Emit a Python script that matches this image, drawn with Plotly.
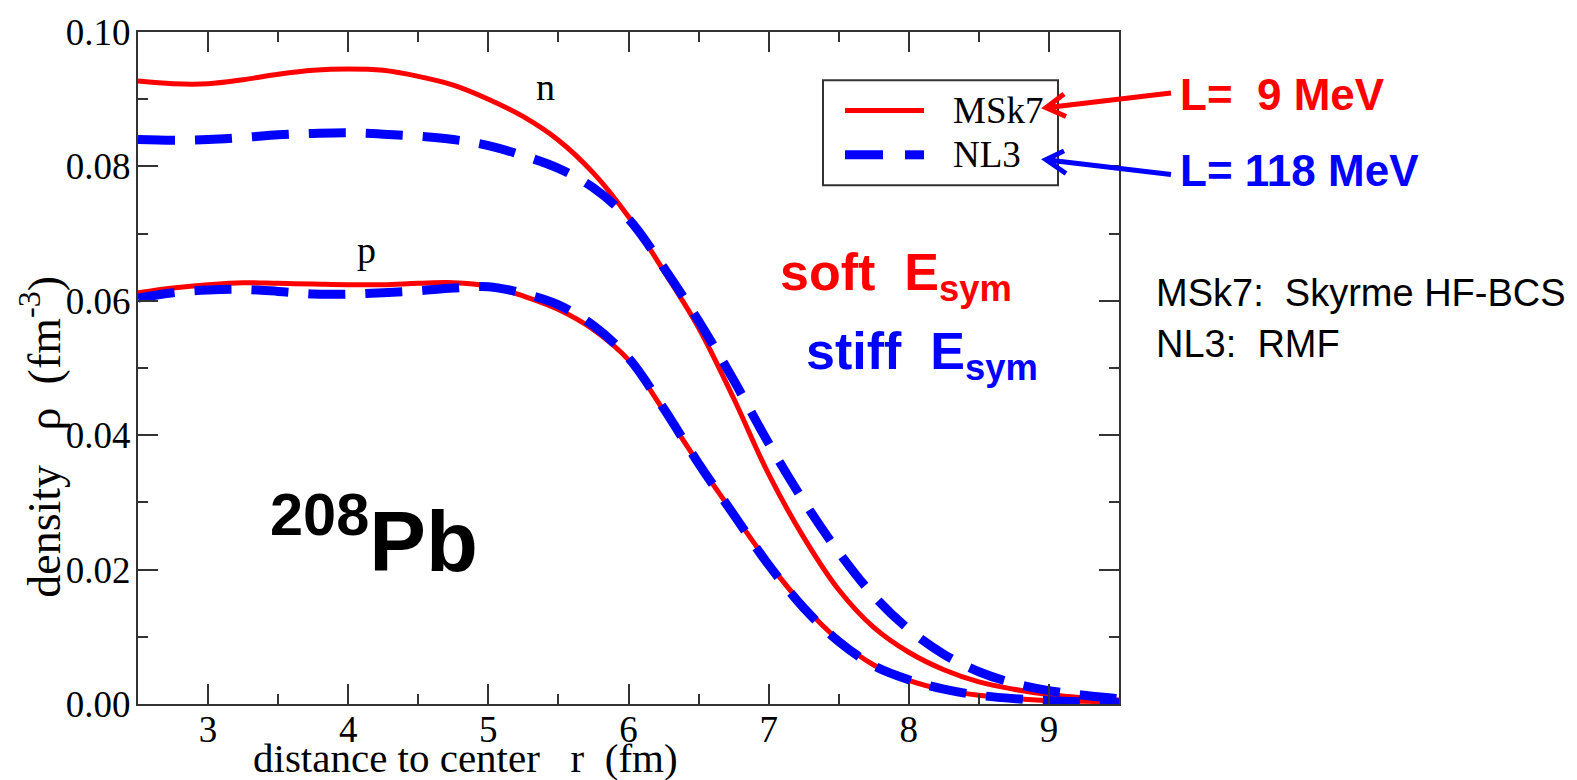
import plotly.graph_objects as go

# radial grid (fm)
r = [2.5, 2.75, 3.0, 3.25, 3.5, 3.75, 4.0, 4.25, 4.5, 4.75, 5.0, 5.25, 5.5, 5.75,
     6.0, 6.25, 6.5, 6.75, 7.0, 7.25, 7.5, 7.75, 8.0, 8.25, 8.5, 8.75, 9.0, 9.25, 9.5]

# neutron densities (fm^-3)
msk7_n = [0.0927, 0.0923, 0.0923, 0.0929, 0.0937, 0.0943, 0.0945, 0.0943, 0.0934, 0.0921,
          0.0900, 0.0874, 0.0839, 0.0790, 0.0725, 0.0645, 0.0560, 0.0455, 0.0342, 0.0248,
          0.0170, 0.0114, 0.0077, 0.0051, 0.0033, 0.0022, 0.0014, 0.0009, 0.0006]
nl3_n = [0.0840, 0.0839, 0.0840, 0.0843, 0.0847, 0.0849, 0.0850, 0.0848, 0.0845, 0.0840,
         0.0831, 0.0816, 0.0797, 0.0768, 0.0722, 0.0650, 0.0570, 0.0482, 0.0388, 0.0302,
         0.0226, 0.0161, 0.0111, 0.0074, 0.0048, 0.0031, 0.0020, 0.0013, 0.0008]

# proton densities (fm^-3)
msk7_p = [0.0612, 0.0619, 0.0624, 0.0627, 0.0626, 0.0625, 0.0624, 0.0624, 0.0626, 0.0627,
          0.0622, 0.0607, 0.0587, 0.0557, 0.0512, 0.0437, 0.0358, 0.0283, 0.0210, 0.0146,
          0.0095, 0.0058, 0.0035, 0.0021, 0.0013, 0.0008, 0.0005, 0.0004, 0.0003]
nl3_p = [0.0604, 0.0612, 0.0616, 0.0617, 0.0614, 0.0610, 0.0610, 0.0612, 0.0615, 0.0619,
         0.0621, 0.0611, 0.0594, 0.0563, 0.0515, 0.0440, 0.0358, 0.0282, 0.0207, 0.0143,
         0.0093, 0.0057, 0.0036, 0.0022, 0.0013, 0.0008, 0.0005, 0.0003, 0.0002]

x_ticks = [3, 4, 5, 6, 7, 8, 9]
y_ticks = [0.00, 0.02, 0.04, 0.06, 0.08, 0.10]

RED = "#ff0000"
BLUE = "#0000ff"
AXC = "#333333"
SERIF = "Liberation Serif, Times New Roman, serif"
SANS = "Liberation Sans, Arial, sans-serif"

W, H = 1577, 780
L, R, T, B = 138, 458, 20, 76


def fx(p):
    """pixel column -> paper x"""
    return (p - L) / (W - L - R)


def fy(p):
    """pixel row -> paper y"""
    return (H - B - p) / (H - T - B)


fig = go.Figure()

solid = dict(color=RED, width=5, shape="spline", smoothing=1.0)
dashed = dict(color=BLUE, width=9, dash="37px,20px", shape="spline", smoothing=1.0)

fig.add_trace(go.Scatter(x=r, y=msk7_n, mode="lines", line=solid, name="MSk7", showlegend=False))
fig.add_trace(go.Scatter(x=r, y=msk7_p, mode="lines", line=solid, name="MSk7", showlegend=False))
fig.add_trace(go.Scatter(x=r, y=nl3_n, mode="lines", line=dashed, name="NL3", showlegend=False))
fig.add_trace(go.Scatter(x=r, y=nl3_p, mode="lines", line=dashed, name="NL3", showlegend=False))

axis_common = dict(
    showline=True, linecolor=AXC, linewidth=2, mirror="allticks",
    ticks="inside", ticklen=20, tickwidth=2, tickcolor=AXC,
    showgrid=False, zeroline=False, ticklabeloverflow="allow",
    tickfont=dict(family=SERIF, size=37, color="#000000"),
)

fig.update_xaxes(range=[2.5, 9.5], tickvals=x_ticks, ticktext=[str(v) for v in x_ticks],
                 ticklabelstandoff=-8,
                 minor=dict(dtick=0.5, tick0=2.5, ticks="inside", ticklen=10, tickwidth=2,
                            tickcolor=AXC, showgrid=False),
                 **axis_common)
fig.update_yaxes(range=[0, 0.1], tickvals=y_ticks, ticktext=[f"{v:.2f}" for v in y_ticks],
                 ticklabelstandoff=-2,
                 minor=dict(dtick=0.01, tick0=0, ticks="inside", ticklen=10, tickwidth=2,
                            tickcolor=AXC, showgrid=False),
                 **axis_common)

shapes = []
annotations = []

# legend frame and samples
shapes.append(dict(type="rect", xref="paper", yref="paper",
                   x0=fx(823), x1=fx(1058), y0=fy(69), y1=fy(176),
                   line=dict(color=AXC, width=2), fillcolor="white", layer="above"))
shapes.append(dict(type="line", xref="paper", yref="paper",
                   x0=fx(845), x1=fx(924), y0=fy(100), y1=fy(100),
                   line=dict(color=RED, width=5), layer="above"))
shapes.append(dict(type="line", xref="paper", yref="paper",
                   x0=fx(845), x1=fx(883), y0=fy(145), y1=fy(145),
                   line=dict(color=BLUE, width=9), layer="above"))
shapes.append(dict(type="line", xref="paper", yref="paper",
                   x0=fx(905), x1=fx(924), y0=fy(145), y1=fy(145),
                   line=dict(color=BLUE, width=9), layer="above"))
annotations.append(dict(text="MSk7", xref="paper", yref="paper", x=fx(951), y=fy(100),
                        xanchor="left", yanchor="middle", showarrow=False,
                        font=dict(family=SERIF, size=37, color="#000000")))
annotations.append(dict(text="NL3", xref="paper", yref="paper", x=fx(951), y=fy(145),
                        xanchor="left", yanchor="middle", showarrow=False,
                        font=dict(family=SERIF, size=37, color="#000000")))


def arrow(x0, y0, x1, y1, a1, a2, color):
    """straight arrow from (x0,y0) to tip (x1,y1) with an open chevron head"""
    path = (f"M {fx(x0)},{fy(y0)} L {fx(x1)},{fy(y1)} "
            f"M {fx(a1[0])},{fy(a1[1])} L {fx(x1)},{fy(y1)} L {fx(a2[0])},{fy(a2[1])}")
    shapes.append(dict(type="path", xref="paper", yref="paper", path=path,
                       line=dict(color=color, width=5), layer="above"))


arrow(1171, 82, 1046, 97, (1064, 83), (1066, 106), RED)
arrow(1171, 165, 1046, 150, (1064, 141), (1066, 164), BLUE)

annotations.append(dict(text="L=  9 MeV", xref="paper", yref="paper", x=fx(1178), y=fy(84),
                        xanchor="left", yanchor="middle", showarrow=False,
                        font=dict(family=SANS, size=44, color=RED, weight="bold")))
annotations.append(dict(text="L= 118 MeV", xref="paper", yref="paper", x=fx(1178), y=fy(161),
                        xanchor="left", yanchor="middle", showarrow=False,
                        font=dict(family=SANS, size=44, color=BLUE, weight="bold")))

annotations.append(dict(text="MSk7:  Skyrme HF-BCS", xref="paper", yref="paper",
                        x=fx(1154), y=fy(286), xanchor="left", yanchor="middle", showarrow=False,
                        font=dict(family=SANS, size=38, color="#000000")))
annotations.append(dict(text="NL3:  RMF", xref="paper", yref="paper",
                        x=fx(1154), y=fy(338), xanchor="left", yanchor="middle", showarrow=False,
                        font=dict(family=SANS, size=38, color="#000000")))

annotations.append(dict(text="soft  E<sub>sym</sub>", xref="paper", yref="paper",
                        x=fx(778), y=fy(268), xanchor="left", yanchor="middle", showarrow=False,
                        font=dict(family=SANS, size=52, color=RED, weight="bold")))
annotations.append(dict(text="stiff  E<sub>sym</sub>", xref="paper", yref="paper",
                        x=fx(804), y=fy(349), xanchor="left", yanchor="middle", showarrow=False,
                        font=dict(family=SANS, size=52, color=BLUE, weight="bold")))

annotations.append(dict(text="<sup>208</sup>Pb", xref="paper", yref="paper",
                        x=fx(268), y=fy(532), xanchor="left", yanchor="middle", showarrow=False,
                        font=dict(family=SANS, size=85, color="#000000", weight="bold")))

annotations.append(dict(text="n", xref="paper", yref="paper", x=fx(545), y=fy(76),
                        xanchor="center", yanchor="middle", showarrow=False,
                        font=dict(family=SERIF, size=38, color="#000000")))
annotations.append(dict(text="p", xref="paper", yref="paper", x=fx(366), y=fy(242),
                        xanchor="center", yanchor="middle", showarrow=False,
                        font=dict(family=SERIF, size=38, color="#000000")))

# axis titles
annotations.append(dict(text="distance to center   r  (fm)", xref="paper", yref="paper",
                        x=fx(465), y=fy(759), xanchor="center", yanchor="middle", showarrow=False,
                        font=dict(family=SERIF, size=41, color="#000000")))
annotations.append(dict(text="density   \u03c1  (fm<sup>-3</sup>)", xref="paper", yref="paper",
                        x=fx(40), y=fy(432), xanchor="center", yanchor="middle", showarrow=False,
                        textangle=-90,
                        font=dict(family=SERIF, size=46, color="#000000")))

fig.update_layout(
    width=W, height=H,
    margin=dict(l=L, r=R, t=T, b=B),
    paper_bgcolor="white", plot_bgcolor="white",
    showlegend=False,
    shapes=shapes, annotations=annotations,
)

fig.write_html("out.html")
